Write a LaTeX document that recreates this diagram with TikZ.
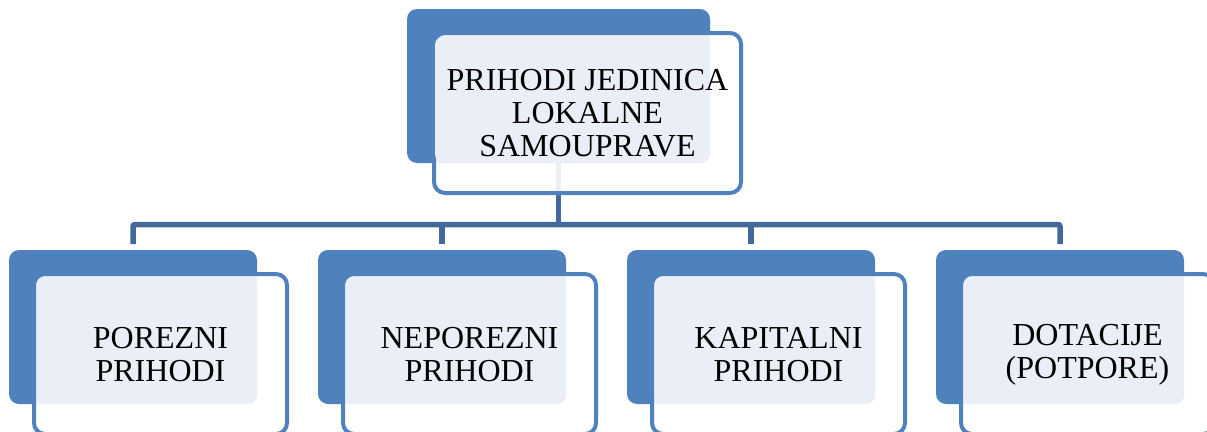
\documentclass[tikz,border=0pt]{standalone}
\usepackage{fontspec}
\setmainfont{Liberation Serif}
\definecolor{dk}{HTML}{4F81BD}
\definecolor{ln}{HTML}{41699C}
\definecolor{lt}{HTML}{EAEFF7}
\begin{document}
\begin{tikzpicture}[x=1pt,y=-1pt,
  box/.style={rectangle,anchor=north west,inner sep=0pt,outer sep=0pt},
  back/.style={box,fill=dk,rounded corners=10pt},
  frame/.style={box,draw=dk,line width=4pt,fill=white,fill opacity=0.9,rounded corners=11pt},
  inner/.style={box,fill=lt,rounded corners=9pt},
  conn/.style={draw=ln,line width=5.5pt,rounded corners=2pt},
  lbl/.style={font=\fontsize{32}{33}\selectfont,align=center,inner sep=0pt,text=black}]
\useasboundingbox (0,0) rectangle (1207,431);
% top
\node[back,minimum width=303pt,minimum height=154pt] (tb) at (407,9) {};
\foreach \i in {1,2,3,4}{
  \pgfmathsetmacro{\dx}{309*(\i-1)}
  \node[back,minimum width=248pt,minimum height=154pt] (b\i) at (9+\dx,250) {};
}
\coordinate (bar) at (558.5,224.5);
\draw[conn] (tb.south) -- (tb.south |- bar);
\draw[conn] ([yshift=6pt]b1.north) |- (b4.north |- bar) -- ([yshift=6pt]b4.north);
\foreach \i in {2,3}{
  \draw[conn] ([yshift=6pt]b\i.north) -- (b\i.north |- bar);
}
\node[frame,minimum width=307pt,minimum height=160pt] (tf) at (434,33) {};
\node[inner,minimum width=275pt,minimum height=127pt] (ti) at (435,36) {};
\node[lbl] (tt) at (tf.center) {PRIHODI JEDINICA\\LOKALNE\\SAMOUPRAVE};
\foreach \i/\t in {1/{POREZNI\\PRIHODI},2/{NEPOREZNI\\PRIHODI},3/{KAPITALNI\\PRIHODI},4/{DOTACIJE\\(POTPORE)}}{
  \pgfmathsetmacro{\dx}{309*(\i-1)}
  \node[frame,minimum width=253pt,minimum height=160pt] (f\i) at (34+\dx,274) {};
  \node[inner,minimum width=220pt,minimum height=127pt] (n\i) at (37+\dx,277) {};
  \node[lbl] (t\i) at ([yshift=-1pt]f\i.center) {\t};
}
\end{tikzpicture}
\end{document}
